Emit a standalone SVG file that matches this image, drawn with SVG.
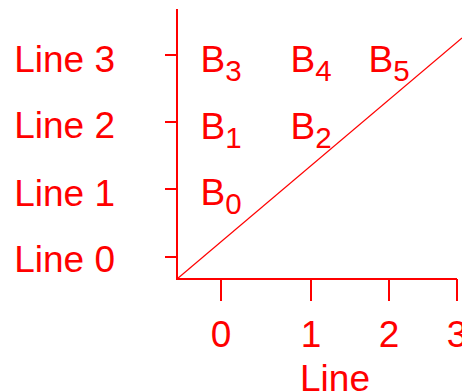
<svg xmlns="http://www.w3.org/2000/svg" width="462" height="391" viewBox="0 0 462 391">
<style>
text{font-family:"Liberation Sans",Arial,sans-serif;fill:#ff0000;font-size:37px}
.ax{stroke:#ff0000;stroke-width:2;fill:none}
.yl{text-anchor:end}
.xl{text-anchor:middle}
.b{text-anchor:middle}
.s{font-size:29.5px}
</style>
<rect width="462" height="391" fill="#fff"/>
<g id="axes">
<path class="ax" d="M177,9V279H457"/>
<path class="ax" d="M165,55H177M165,122H177M165,189H177M165,257H177"/>
<path class="ax" d="M221,279V301M311,279V301M389,279V301M457,279V301"/>
</g>
<g id="connectors">
<line x1="177" y1="279" x2="462" y2="38" stroke="#ff0000" stroke-width="1.2"/>
</g>
<g id="ylabels">
<text class="yl" x="115" y="71.5">Line 3</text>
<text class="yl" x="115" y="138">Line 2</text>
<text class="yl" x="115" y="205.5">Line 1</text>
<text class="yl" x="115" y="272">Line 0</text>
</g>
<g id="xlabels">
<text class="xl" x="221" y="347">0</text>
<text class="xl" x="311" y="347">1</text>
<text class="xl" x="389" y="347">2</text>
<text class="xl" x="457" y="347">3</text>
<text class="xl" x="335" y="391">Line</text>
</g>
<g id="B0"><text class="b" x="221" y="205">B<tspan class="s" dy="9">0</tspan></text></g>
<g id="B1"><text class="b" x="221" y="138.5">B<tspan class="s" dy="9">1</tspan></text></g>
<g id="B2"><text class="b" x="311" y="138.5">B<tspan class="s" dy="9">2</tspan></text></g>
<g id="B3"><text class="b" x="221" y="72">B<tspan class="s" dy="9">3</tspan></text></g>
<g id="B4"><text class="b" x="311" y="72">B<tspan class="s" dy="9">4</tspan></text></g>
<g id="B5"><text class="b" x="389" y="72">B<tspan class="s" dy="9">5</tspan></text></g>
</svg>
